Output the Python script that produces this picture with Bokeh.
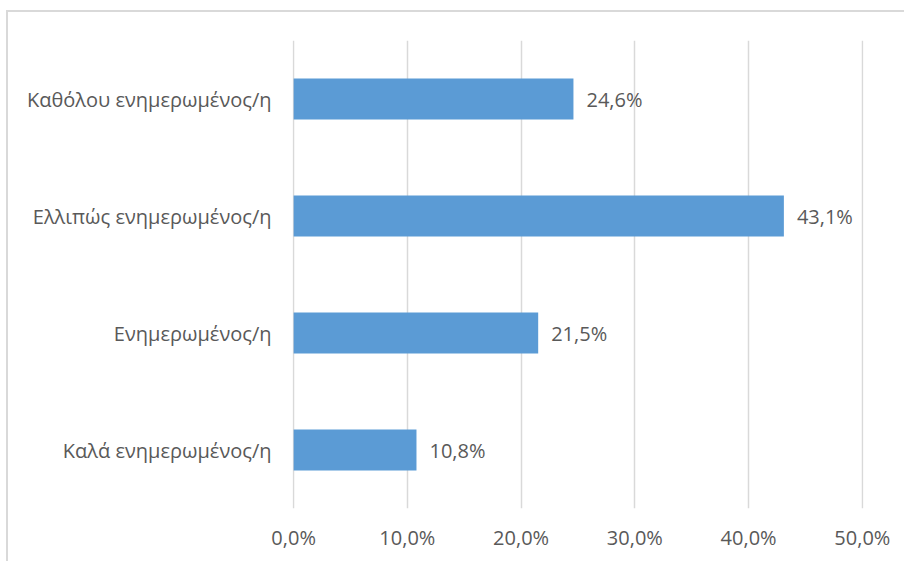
from bokeh.plotting import figure
from bokeh.models import (FactorRange, Range1d, ColumnDataSource, CustomJSTickFormatter,
                          FixedTicker)
from bokeh.core.properties import value
from bokeh.embed import file_html
from bokeh.resources import INLINE

# Survey answers, listed top to bottom
categories = ["Καθόλου ενημερωμένος/η", "Ελλιπώς ενημερωμένος/η",
              "Ενημερωμένος/η", "Καλά ενημερωμένος/η"]
shares = [24.6, 43.1, 21.5, 10.8]
x_ticks = [0, 10, 20, 30, 40, 50]

FONT = "Open Sans"
FONT_SIZE = "20px"
TEXT = "#595959"
BAR = "#5b9bd5"
GRID = "#d9d9d9"

labels = [f"{v:.1f}".replace(".", ",") + "%" for v in shares]
src = ColumnDataSource(dict(cat=categories, val=shares, lab=labels))

# light frame along the top and left edge of the chart area
frame_css = {"margin-left": "6px", "margin-top": "10px",
             "border-left": f"2px solid {GRID}", "border-top": f"2px solid {GRID}"}

p = figure(width=898, height=551, output_backend="svg", toolbar_location=None,
           y_range=FactorRange(*reversed(categories)), x_range=Range1d(-0.1, 50.1),
           min_border_left=284, min_border_right=43, min_border_top=28,
           min_border_bottom=55, styles=frame_css)
p.outline_line_color = None
p.background_fill_color = "white"
p.border_fill_color = "white"

p.hbar(y="cat", right="val", left=0, height=0.35, source=src,
       fill_color=BAR, line_color=None)
p.text(x="val", y="cat", text="lab", source=src, x_offset=13,
       text_baseline="middle", text_align="left", text_color=TEXT,
       text_font=value(FONT), text_font_size=FONT_SIZE)

# x axis: percent ticks with a decimal comma, no line or tick marks
p.xaxis.ticker = FixedTicker(ticks=x_ticks)
p.xaxis.formatter = CustomJSTickFormatter(
    code="return tick.toFixed(1).replace('.', ',') + '%';")
p.xaxis.axis_line_color = None
p.xaxis.major_tick_line_color = None
p.xaxis.minor_tick_line_color = None
p.xaxis.major_label_standoff = 9
p.xaxis.major_label_text_font = FONT
p.xaxis.major_label_text_font_size = FONT_SIZE
p.xaxis.major_label_text_color = TEXT

p.yaxis.axis_line_color = None
p.yaxis.major_tick_line_color = None
p.yaxis.minor_tick_line_color = None
p.yaxis.major_label_standoff = 15
p.yaxis.major_label_text_font = FONT
p.yaxis.major_label_text_font_size = FONT_SIZE
p.yaxis.major_label_text_color = TEXT

p.xgrid.grid_line_color = GRID
p.xgrid.grid_line_width = 1.5
p.ygrid.grid_line_color = None

open("out.html", "w").write(file_html(p, INLINE))
